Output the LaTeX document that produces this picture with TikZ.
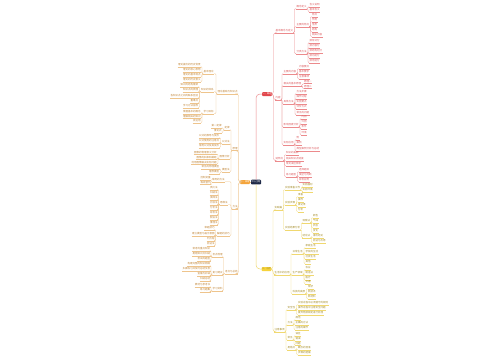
\documentclass[tikz,border=0pt]{standalone}
\usepackage{fontspec}
\newfontfamily\cjk{Noto Sans CJK SC}
\usetikzlibrary{positioning}
\definecolor{roottop}{HTML}{1F2A48}
\definecolor{redtop}{HTML}{E2474C}
\definecolor{redln}{HTML}{EC8A8C}
\definecolor{redtx}{HTML}{DC5A5E}
\definecolor{orgtop}{HTML}{F4A43A}
\definecolor{orgln}{HTML}{EEC48C}
\definecolor{orgtx}{HTML}{C08436}
\definecolor{yeltop}{HTML}{F6D33C}
\definecolor{yelln}{HTML}{F0D870}
\definecolor{yeltx}{HTML}{A48C28}

\begin{document}
\begin{tikzpicture}[x=1pt, y=-1pt,
    tx/.style={inner xsep=0.3pt, inner ysep=0.35pt, font=\cjk\fontsize{2.5}{2.6}\selectfont},
    ul/.style={append after command={(\tikzlastnode.south west) edge[draw=#1, line width=0.35pt] (\tikzlastnode.south east)}},
    rnode/.style={tx, anchor=west, text=redtx, ul=redln},
    ynode/.style={tx, anchor=west, text=yeltx, ul=yelln},
    onode/.style={tx, anchor=east, text=orgtx, ul=orgln},
    rline/.style={draw=redln, line width=0.35pt, rounded corners=1pt},
    yline/.style={draw=yelln, line width=0.35pt, rounded corners=1pt},
    oline/.style={draw=orgln, line width=0.35pt, rounded corners=1pt},
    topic/.style={rounded corners=0.8pt, inner sep=0.4pt, minimum width=9pt, minimum height=4pt, font=\cjk\fontsize{2.2}{2.4}\selectfont, text=white}
]
\fill[white] (0,0) rectangle (500,360);
\useasboundingbox (0,0) rectangle (500,360);

% Centre and main topics
\node[topic, fill=roottop, minimum width=10pt, minimum height=4.6pt] (root) at (256,182) {中心主题};
\node[topic, fill=redtop] (red) at (267,94) {一、概述};
\node[topic, fill=orgtop, minimum width=8pt] (org) at (245,182) {二、原理};
\node[topic, fill=yeltop, text=yeltx] (yel) at (266.5,269) {三、应用};
\draw[rline, line width=0.5pt, rounded corners=4pt] (root.north) |- (red.west);
\draw[yline, line width=0.5pt, rounded corners=4pt] (root.south) |- (yel.west);
\draw[oline, line width=0.5pt] (root.west) -- (org.east);

% Red branch
\node[rnode] (t) at (275,31) {基本概念与定义};
\node[rnode] (m) at (275,98) {内容};
\node[rnode] (b) at (275,159) {延伸点};
\foreach \c in {t,m,b} \draw[rline, rounded corners=2.5pt] (red.east) -- ++(1.5,0) |- (\c.south west);

\node[rnode] (ta) at (296,7) {概念定义};
\node[rnode] (tb) at (296,25) {主要的特点};
\node[rnode] (tc) at (296,52) {分类方法};
\foreach \c in {ta,tb,tc} \draw[rline] (t.south east) -- ++(1,0) |- (\c.south west);
\foreach \yy/\txt [count=\i] in {5/含义说明,10/基本含义}
  {\node[rnode] (ta\i) at (309,\yy) {\txt};
   \draw[rline] (ta.south east) -- ++(1,0) |- (ta\i.south west);}
\foreach \yy/\txt [count=\i] in {15/特点,20/作用,25/性质,30/结构,35/相关内容}
  {\node[rnode] (tb\i) at (311.5,\yy) {\txt};
   \draw[rline] (tb.south east) -- ++(1,0) |- (tb\i.south west);}
\foreach \yy/\txt [count=\i] in {41/按形式分,46/按内容分,51/按结构划分,56/按功能分,61/按用途分}
  {\node[rnode] (tc\i) at (309,\yy) {\txt};
   \draw[rline] (tc.south east) -- ++(1,0) |- (tc\i.south west);}

\node[rnode] (m1) at (283,72) {主要的内容};
\node[rnode] (m2) at (283,84) {相关的基本原理};
\node[rnode] (m3) at (283,102) {具体方法};
\node[rnode] (m4) at (283,125) {影响因素分析};
\node[rnode] (m5) at (283,143) {实际应用};
\foreach \c in {m1,m2,m3,m4,m5} \draw[rline] (m.south east) -- ++(1,0) |- (\c.south west);
\foreach \yy/\txt [count=\i] in {67/内容要点,72/基本要求,77/注意事项}
  {\node[rnode] (m1\i) at (298.5,\yy) {\txt};
   \draw[rline] (m1.south east) -- ++(1,0) |- (m1\i.south west);}
\foreach \yy/\txt [count=\i] in {82/原理一,87/原理二}
  {\node[rnode] (m2\i) at (303.5,\yy) {\txt};
   \draw[rline] (m2.south east) -- ++(1,0) |- (m2\i.south west);}
\foreach \yy/\txt [count=\i] in {92/方法步骤,97/操作过程,102/实施要点,107/评价方式,113/常见的问题}
  {\node[rnode] (m3\i) at (296,\yy) {\txt};
   \draw[rline] (m3.south east) -- ++(1,0) |- (m3\i.south west);}
\foreach \yy/\txt [count=\i] in {117/内因,122/外因,127/条件,133/环境}
  {\node[rnode] (m4\i) at (301,\yy) {\txt};
   \draw[rline] (m4.south east) -- ++(1,0) |- (m4\i.south west);}
\foreach \yy/\txt [count=\i] in {138/例,143/案例,149/典型案例分析与总结}
  {\node[rnode] (m5\i) at (296,\yy) {\txt};
   \draw[rline] (m5.south east) -- ++(1,0) |- (m5\i.south west);}

\node[rnode] (b1) at (285.5,153) {知识的拓展};
\node[rnode] (b2) at (285.5,159) {相关知识点链接};
\node[rnode] (b3) at (285.5,164) {常见误区辨析};
\node[rnode] (b4) at (285.5,175) {练习题型};
\foreach \c in {b1,b2,b3,b4} \draw[rline] (b.south east) -- ++(1,0) |- (\c.south west);
\foreach \yy/\txt [count=\i] in {170/选择题目,175/填空与判断,180/综合应用}
  {\node[rnode] (b4\i) at (298.5,\yy) {\txt};
   \draw[rline] (b4.south east) -- ++(1,0) |- (b4\i.south west);}

% Yellow branch
\node[ynode] (ya) at (274,208) {实践篇};
\node[ynode] (yb) at (274,273) {生活中的应用};
\node[ynode] (yc) at (274,330) {注意事项};
\foreach \c in {ya,yb,yc} \draw[yline, rounded corners=2.5pt] (yel.east) -- ++(1.5,0) |- (\c.south west);

\node[ynode] (ya1) at (284.5,188) {实验准备工作};
\node[ynode] (ya2) at (284.5,203) {实验步骤};
\node[ynode] (ya3) at (284.5,228) {实验结果分析};
\foreach \c in {ya1,ya2,ya3} \draw[yline] (ya.south east) -- ++(1,0) |- (\c.south west);
\foreach \yy/\txt [count=\i] in {185/实验器材,190/实验环境}
  {\node[ynode] (ya1\i) at (302,\yy) {\txt};
   \draw[yline] (ya1.south east) -- ++(1,0) |- (ya1\i.south west);}
\foreach \yy/\txt [count=\i] in {195/准备,200/操作,205/做记录,210/分析}
  {\node[ynode] (ya2\i) at (297.5,\yy) {\txt};
   \draw[yline] (ya2.south east) -- ++(1,0) |- (ya2\i.south west);}
\node[ynode] (ya3a) at (302,221) {观察法};
\node[ynode] (ya3b) at (302,236) {结论法};
\foreach \c in {ya3a,ya3b} \draw[yline] (ya3.south east) -- ++(1,0) |- (\c.south west);
\foreach \yy/\txt [count=\i] in {216/颜色,221/气味,226/状态,231/变化}
  {\node[ynode] (ya3a\i) at (312.5,\yy) {\txt};
   \draw[yline] (ya3a.south east) -- ++(1,0) |- (ya3a\i.south west);}
\foreach \yy/\txt [count=\i] in {236/得出结论,241/验证与反思}
  {\node[ynode] (ya3b\i) at (312.5,\yy) {\txt};
   \draw[yline] (ya3b.south east) -- ++(1,0) |- (ya3b\i.south west);}

\node[ynode] (yb1) at (292,252) {日常生活};
\node[ynode] (yb2) at (292,273) {生产领域};
\node[ynode] (yb3) at (292,292) {科技的发展};
\foreach \c in {yb1,yb2,yb3} \draw[yline] (yb.south east) -- ++(1,0) |- (\c.south west);
\foreach \yy/\txt [count=\i] in {246/家庭生活,252/学校的生活,257/社会生活,262/其他}
  {\node[ynode] (yb1\i) at (305,\yy) {\txt};
   \draw[yline] (yb1.south east) -- ++(1,0) |- (yb1\i.south west);}
\foreach \yy/\txt [count=\i] in {268/农业,273/制造业,278/医疗,282/交通}
  {\node[ynode] (yb2\i) at (305,\yy) {\txt};
   \draw[yline] (yb2.south east) -- ++(1,0) |- (yb2\i.south west);}
\foreach \yy/\txt [count=\i] in {287/现状,292/新技术,297/新材料}
  {\node[ynode] (yb3\i) at (307.5,\yy) {\txt};
   \draw[yline] (yb3.south east) -- ++(1,0) |- (yb3\i.south west);}

\node[ynode] (yc1) at (287,308) {安全性};
\node[ynode] (yc2) at (287,323) {方法};
\node[ynode] (yc3) at (287,338) {常见};
\node[ynode] (yc4) at (287,348) {易错点};
\foreach \c in {yc1,yc2,yc3,yc4} \draw[yline] (yc.south east) -- ++(1,0) |- (\c.south west);
\foreach \yy/\txt [count=\i] in {303/实验过程中必须遵守的规则,308/操作过程中注意安全问题,313/废弃物按规定进行处理}
  {\node[ynode] (yc1\i) at (297.5,\yy) {\txt};
   \draw[yline] (yc1.south east) -- ++(1,0) |- (yc1\i.south west);}
\foreach \yy/\txt [count=\i] in {318/规范,323/正确的方法,328/注意的细节}
  {\node[ynode] (yc2\i) at (295,\yy) {\txt};
   \draw[yline] (yc2.south east) -- ++(1,0) |- (yc2\i.south west);}
\foreach \yy/\txt [count=\i] in {334/误区,339/错误,343.5/问题}
  {\node[ynode] (yc3\i) at (295,\yy) {\txt};
   \draw[yline] (yc3.south east) -- ++(1,0) |- (yc3\i.south west);}
\foreach \yy/\txt [count=\i] in {348/概念的混淆,353/步骤的遗漏}
  {\node[ynode] (yc4\i) at (297.5,\yy) {\txt};
   \draw[yline] (yc4.south east) -- ++(1,0) |- (yc4\i.south west);}

% Orange branch (left)
\node[onode] (l1) at (238,92) {理论基础与知识点};
\node[onode] (l2) at (238,149) {原理};
\node[onode] (l3) at (238,207) {方法};
\node[onode] (l4) at (238,272) {考点与总结};
\foreach \c in {l1,l2,l3,l4} \draw[oline, rounded corners=2.5pt] (org.west) -- ++(-1.5,0) |- (\c.south east);

\node[onode] (l1a) at (214,72) {基本理论};
\node[onode] (l1b) at (214,90) {知识的体系};
\node[onode] (l1c) at (214,112) {学习目标};
\foreach \c in {l1a,l1b,l1c} \draw[oline] (l1.south west) -- ++(-1,0) |- (\c.south east);
\foreach \yy/\txt [count=\i] in {65/理论提出的历史背景,70/理论的核心思想,75/理论的基本观点,80/理论的历史意义}
  {\node[onode] (l1a\i) at (201,\yy) {\txt};
   \draw[oline] (l1a.south west) -- ++(-1,0) |- (l1a\i.south east);}
\foreach \yy/\txt [count=\i] in {85/知识的结构框架,90/知识点的梳理,96/各知识点之间的联系区别,101/重难点,106/学习方法指导}
  {\node[onode] (l1b\i) at (198.5,\yy) {\txt};
   \draw[oline] (l1b.south west) -- ++(-1,0) |- (l1b\i.south east);}
\foreach \yy/\txt [count=\i] in {112/掌握基本的概念,116.5/理解相关的知识,121/会运用}
  {\node[onode] (l1c\i) at (201,\yy) {\txt};
   \draw[oline] (l1c.south west) -- ++(-1,0) |- (l1c\i.south east);}

\node[onode] (l2a) at (230,128) {定律};
\node[onode] (l2b) at (230,142) {公式法};
\node[onode] (l2c) at (230,157) {图像分析};
\node[onode] (l2d) at (230,170) {模型法};
\foreach \c in {l2a,l2b,l2c,l2d} \draw[oline] (l2.south west) -- ++(-1,0) |- (\c.south east);
\foreach \yy/\txt [count=\i] in {126/第一定律,131/推论式}
  {\node[onode] (l2a\i) at (222,\yy) {\txt};
   \draw[oline] (l2a.south west) -- ++(-1,0) |- (l2a\i.south east);}
\foreach \yy/\txt [count=\i] in {136/公式的推导与变形,141/公式使用的注意点,146/常用公式及其变形}
  {\node[onode] (l2b\i) at (219.5,\yy) {\txt};
   \draw[oline] (l2b.south west) -- ++(-1,0) |- (l2b\i.south east);}
\foreach \yy/\txt [count=\i] in {152.5/图像的物理意义分析,157.5/图像的斜率和截距,162.5/利用图像解决实际问题}
  {\node[onode] (l2c\i) at (217,\yy) {\txt};
   \draw[oline] (l2c.south west) -- ++(-1,0) |- (l2c\i.south east);}
\foreach \yy/\txt [count=\i] in {167/常见的物理模型,172/理想模型}
  {\node[onode] (l2d\i) at (219.5,\yy) {\txt};
   \draw[oline] (l2d.south west) -- ++(-1,0) |- (l2d\i.south east);}

\node[onode] (l3a) at (225,180) {常用的方法};
\node[onode] (l3b) at (228,203) {思维法};
\node[onode] (l3c) at (230,234) {解题的技巧};
\foreach \c in {l3a,l3b,l3c} \draw[oline] (l3.south west) -- ++(-1,0) |- (\c.south east);
\foreach \yy/\txt [count=\i] in {178/控制变量,182.5/等效替代}
  {\node[onode] (l3a\i) at (211,\yy) {\txt};
   \draw[oline] (l3a.south west) -- ++(-1,0) |- (l3a\i.south east);}
\foreach \yy/\txt [count=\i] in {188/类比法,193/归纳法,198/演绎法,203/比较法,208/分析法,213/综合法,218/假设法,223/推理法}
  {\node[onode] (l3b\i) at (218,\yy) {\txt};
   \draw[oline] (l3b.south west) -- ++(-1,0) |- (l3b\i.south east);}
\foreach \yy/\txt [count=\i] in {228/审题技巧,234/建立模型与画示意图,239/列方程,244/验证法}
  {\node[onode] (l3c\i) at (215,\yy) {\txt};
   \draw[oline] (l3c.south west) -- ++(-1,0) |- (l3c\i.south east);}

\node[onode] (l4a) at (223,255) {考点梳理};
\node[onode] (l4b) at (223,273) {复习建议};
\node[onode] (l4c) at (223,289) {学习资料};
\foreach \c in {l4a,l4b,l4c} \draw[oline] (l4.south west) -- ++(-1,0) |- (\c.south east);
\foreach \yy/\txt [count=\i] in {249/常考的重点知识,254/易错知识点归纳,259/考试的题型}
  {\node[onode] (l4a\i) at (210.5,\yy) {\txt};
   \draw[oline] (l4a.south west) -- ++(-1,0) |- (l4a\i.south east);}
\foreach \yy/\txt [count=\i] in {264/构建完整的知识网络,269/多做练习并及时总结反思,274/查漏与补缺,279/归纳总结}
  {\node[onode] (l4b\i) at (210.5,\yy) {\txt};
   \draw[oline] (l4b.south west) -- ++(-1,0) |- (l4b\i.south east);}
\foreach \yy/\txt [count=\i] in {285/教材与参考书,290/练习题集}
  {\node[onode] (l4c\i) at (210.5,\yy) {\txt};
   \draw[oline] (l4c.south west) -- ++(-1,0) |- (l4c\i.south east);}
\end{tikzpicture}
\end{document}
